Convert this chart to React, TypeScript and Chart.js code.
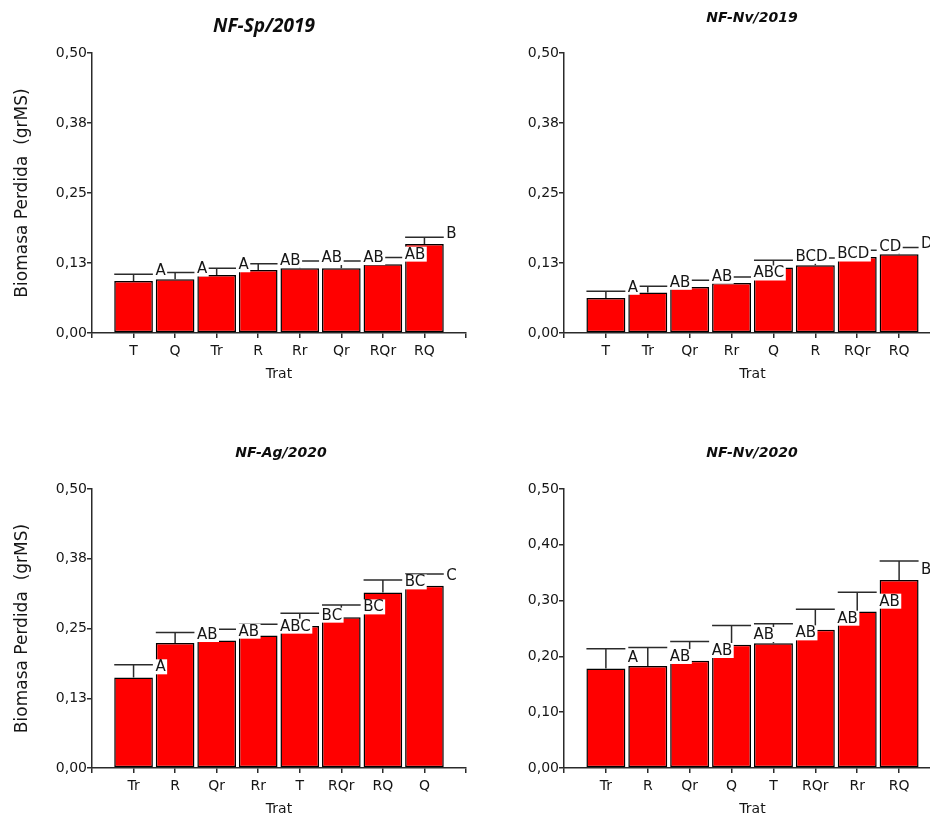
import React, { useEffect, useRef } from 'react';
import { Chart, registerables } from 'chart.js';

Chart.register(...registerables);

// ---------- data ----------
const titleSp2019 = 'NF-Sp/2019';
const catsSp2019 = ['T', 'Q', 'Tr', 'R', 'Rr', 'Qr', 'RQr', 'RQ'];
const meanSp2019 = [0.093, 0.096, 0.1036, 0.1125, 0.1155, 0.1155, 0.1226, 0.159];
const errSp2019 = [0.012, 0.012, 0.012, 0.011, 0.013, 0.013, 0.012, 0.012];
const lettersSp2019 = ['A', 'A', 'A', 'AB', 'AB', 'AB', 'AB', 'B'];

const titleNv2019 = 'NF-Nv/2019';
const catsNv2019 = ['T', 'Tr', 'Qr', 'Rr', 'Q', 'R', 'RQr', 'RQ'];
const meanNv2019 = [0.0625, 0.0721, 0.0821, 0.0893, 0.1168, 0.1209, 0.1357, 0.1405];
const errNv2019 = [0.012, 0.0113, 0.012, 0.0107, 0.013, 0.013, 0.012, 0.012];
const lettersNv2019 = ['A', 'AB', 'AB', 'ABC', 'BCD', 'BCD', 'CD', 'D'];

const titleAg2020 = 'NF-Ag/2020';
const catsAg2020 = ['Tr', 'R', 'Qr', 'Rr', 'T', 'RQr', 'RQ', 'Q'];
const meanAg2020 = [0.1622, 0.2238, 0.2284, 0.2374, 0.2547, 0.2703, 0.3144, 0.3264];
const errAg2020 = [0.0227, 0.019, 0.0204, 0.0204, 0.0228, 0.022, 0.0227, 0.0214];
const lettersAg2020 = ['A', 'AB', 'AB', 'ABC', 'BC', 'BC', 'BC', 'C'];

const titleNv2020 = 'NF-Nv/2020';
const catsNv2020 = ['Tr', 'R', 'Qr', 'Q', 'T', 'RQr', 'Rr', 'RQ'];
const meanNv2020 = [0.1785, 0.1826, 0.1921, 0.2208, 0.2237, 0.2476, 0.2804, 0.3371];
const errNv2020 = [0.0352, 0.0334, 0.0346, 0.0345, 0.0346, 0.037, 0.0347, 0.034];
const lettersNv2020 = ['A', 'AB', 'AB', 'AB', 'AB', 'AB', 'AB', 'B'];

const yTicksEighths = [0, 0.125, 0.25, 0.375, 0.5];
const yTicksTenths = [0, 0.1, 0.2, 0.3, 0.4, 0.5];

const yAxisTitle = 'Biomasa Perdida  (grMS)';
const xAxisTitle = 'Trat';

// ---------- styling / layout ----------
const TEXT = '#161616';
const AXIS = '#2b2b2b';
const FONT = '"DejaVu Sans", sans-serif';
const X_AXIS_H = 60;

type PanelCfg = {
  title: string;
  titleFont: string;
  titleX: number;
  titleY: number;
  cats: string[];
  means: number[];
  errs: number[];
  letters: string[];
  yTicks: number[];
  showYTitle: boolean;
  left: number;
  top: number;
  width: number;
  plotTop: number;
  plotBottom: number;
  axisLeft: number;
  axisRight: number;
  letterShift: number;
};

const panels: PanelCfg[] = [
  {
    title: titleSp2019, titleFont: 'italic bold 19px "Open Sans", sans-serif', titleX: 264, titleY: 27,
    cats: catsSp2019, means: meanSp2019, errs: errSp2019, letters: lettersSp2019, yTicks: yTicksEighths,
    showYTitle: true, left: 0, top: 0, width: 480, plotTop: 53, plotBottom: 333, axisLeft: 92, axisRight: 466,
    letterShift: -3.5,
  },
  {
    title: titleNv2019, titleFont: 'italic bold 14px "DejaVu Sans", sans-serif', titleX: 752, titleY: 18,
    cats: catsNv2019, means: meanNv2019, errs: errNv2019, letters: lettersNv2019, yTicks: yTicksEighths,
    showYTitle: false, left: 470, top: 0, width: 480, plotTop: 53, plotBottom: 333, axisLeft: 564, axisRight: 941,
    letterShift: -4,
  },
  {
    title: titleAg2020, titleFont: 'italic bold 14px "DejaVu Sans", sans-serif', titleX: 281, titleY: 453,
    cats: catsAg2020, means: meanAg2020, errs: errAg2020, letters: lettersAg2020, yTicks: yTicksEighths,
    showYTitle: true, left: 0, top: 420, width: 480, plotTop: 489, plotBottom: 768, axisLeft: 92, axisRight: 466,
    letterShift: 2,
  },
  {
    title: titleNv2020, titleFont: 'italic bold 14px "DejaVu Sans", sans-serif', titleX: 752, titleY: 453,
    cats: catsNv2020, means: meanNv2020, errs: errNv2020, letters: lettersNv2020, yTicks: yTicksTenths,
    showYTitle: false, left: 470, top: 420, width: 480, plotTop: 489, plotBottom: 768, axisLeft: 564, axisRight: 941,
    letterShift: 9,
  },
];

function makePlugin(cfg: PanelCfg) {
  return {
    id: 'errLetters',
    afterDatasetsDraw(chart: any) {
      const ctx = chart.ctx as CanvasRenderingContext2D;
      const y = chart.scales.y;
      const meta = chart.getDatasetMeta(0);
      const n = cfg.means.length;
      const items: { x: number; w: number; top: number }[] = [];
      meta.data.forEach((bar: any, i: number) => {
        const k = i - 1;
        if (k < 0 || k >= n) return;
        const { x, width } = bar.getProps(['x', 'width'], true);
        const yBar = y.getPixelForValue(cfg.means[k]);
        const yTop = y.getPixelForValue(cfg.means[k] + cfg.errs[k]);
        ctx.save();
        ctx.strokeStyle = AXIS;
        ctx.lineWidth = 1.5;
        ctx.beginPath();
        ctx.moveTo(x, yBar);
        ctx.lineTo(x, yTop);
        ctx.moveTo(x - width / 2, yTop);
        ctx.lineTo(x + width / 2, yTop);
        ctx.stroke();
        ctx.restore();
        items.push({ x, w: width, top: yTop });
      });
      ctx.save();
      ctx.font = `15px ${FONT}`;
      ctx.textBaseline = 'middle';
      ctx.textAlign = 'left';
      items.forEach((it, k) => {
        const txt = cfg.letters[k];
        const tw = ctx.measureText(txt).width;
        const bx = it.x + it.w / 2 + 1;
        const cy = it.top + cfg.letterShift;
        ctx.fillStyle = '#ffffff';
        ctx.fillRect(bx, cy - 7.5, tw + 3, 15);
        ctx.fillStyle = TEXT;
        ctx.fillText(txt, bx + 1.5, cy + 0.5);
      });
      ctx.restore();
    },
    afterDraw(chart: any) {
      const ctx = chart.ctx as CanvasRenderingContext2D;
      ctx.save();
      ctx.font = cfg.titleFont;
      ctx.fillStyle = '#0d0d0d';
      ctx.textAlign = 'center';
      ctx.textBaseline = 'middle';
      ctx.fillText(cfg.title, cfg.titleX - cfg.left, cfg.titleY - cfg.top);
      ctx.restore();
    },
  };
}

function Panel({ cfg }: { cfg: PanelCfg }) {
  const ref = useRef<HTMLCanvasElement>(null);
  const height = cfg.plotBottom - cfg.top + X_AXIS_H;
  useEffect(() => {
    const canvas = ref.current!;
    const labels = ['', ...cfg.cats, ''];
    const data = [null, ...cfg.means, null];
    const yWidth = cfg.axisLeft - cfg.left;
    const chart = new Chart(canvas, {
      type: 'bar',
      data: {
        labels,
        datasets: [
          {
            data,
            backgroundColor: '#ff0000',
            borderColor: '#000000',
            borderWidth: 1.5,
            borderSkipped: false,
            barPercentage: 0.93,
            categoryPercentage: 1,
          },
        ],
      },
      options: {
        animation: false,
        responsive: false,
        maintainAspectRatio: false,
        events: [],
        layout: {
          padding: {
            left: 0,
            top: cfg.plotTop - cfg.top,
            right: cfg.left + cfg.width - cfg.axisRight,
            bottom: 0,
          },
        },
        plugins: {
          legend: { display: false },
          tooltip: { enabled: false },
          title: { display: false },
        },
        scales: {
          x: {
            type: 'category',
            offset: false,
            grid: {
              display: true,
              offset: false,
              drawOnChartArea: false,
              drawTicks: true,
              tickLength: 5,
              color: AXIS,
              lineWidth: 1.5,
            },
            border: { display: true, color: AXIS, width: 1.5 },
            ticks: {
              autoSkip: false,
              maxRotation: 0,
              padding: 5,
              color: TEXT,
              font: { family: FONT, size: 14 },
            },
            title: {
              display: true,
              text: xAxisTitle,
              color: TEXT,
              font: { family: FONT, size: 14 },
              padding: { top: 0, bottom: 10 },
            },
            afterFit: (s: any) => {
              s.height = X_AXIS_H;
            },
          },
          y: {
            type: 'linear',
            min: 0,
            max: 0.5,
            afterBuildTicks: (s: any) => {
              s.ticks = cfg.yTicks.map((v) => ({ value: v }));
            },
            grid: {
              display: true,
              drawOnChartArea: false,
              drawTicks: true,
              tickLength: 5,
              color: AXIS,
              lineWidth: 1.5,
            },
            border: { display: true, color: AXIS, width: 1.5 },
            ticks: {
              padding: 0,
              color: TEXT,
              font: { family: FONT, size: 14 },
              callback: (v: any) => Number(v).toFixed(2).replace('.', ','),
            },
            title: {
              display: cfg.showYTitle,
              text: yAxisTitle,
              color: TEXT,
              font: { family: FONT, size: 17 },
              padding: { top: 12, bottom: 0 },
            },
            afterFit: (s: any) => {
              s.width = yWidth;
            },
          },
        },
      },
      plugins: [makePlugin(cfg)],
    } as any);
    return () => chart.destroy();
  }, []);
  return (
    <canvas
      ref={ref}
      width={cfg.width}
      height={height}
      style={{ position: 'absolute', left: cfg.left, top: cfg.top, width: cfg.width, height }}
    />
  );
}

export default function App() {
  return (
    <div
      style={{
        position: 'fixed',
        left: 0,
        top: 0,
        width: 930,
        height: 818,
        overflow: 'hidden',
        background: '#ffffff',
      }}
    >
      {panels.map((p, i) => (
        <Panel key={i} cfg={p} />
      ))}
    </div>
  );
}
